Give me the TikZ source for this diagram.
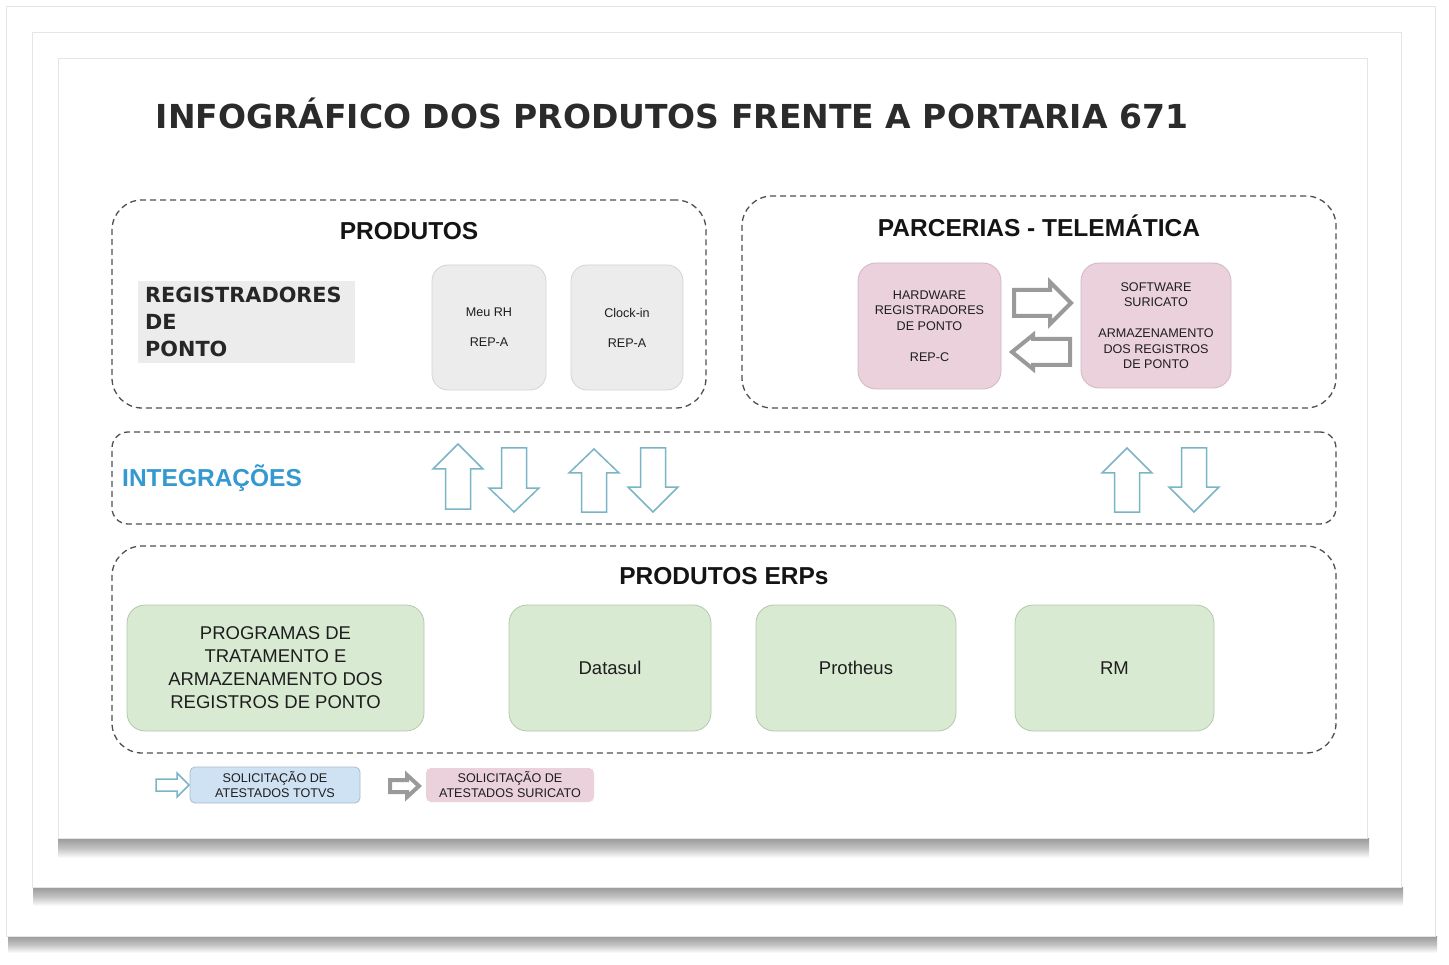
\documentclass[tikz,border=0pt]{standalone}
\usepackage{fontspec}
\setmainfont{Liberation Sans}
\newfontfamily\titlefont{DejaVu Sans}
\definecolor{dashc}{HTML}{505050}
\definecolor{grayfill}{HTML}{ECECEC}
\definecolor{graydraw}{HTML}{D4D4D4}
\definecolor{pinkfill}{HTML}{EAD1DC}
\definecolor{pinkdraw}{HTML}{D2B6C3}
\definecolor{greenfill}{HTML}{D9EAD3}
\definecolor{greendraw}{HTML}{B4C8AC}
\definecolor{bluefill}{HTML}{CFE2F3}
\definecolor{bluedraw}{HTML}{A9BCCC}
\definecolor{tealc}{HTML}{7AB5C5}
\definecolor{integc}{HTML}{3399D0}
\definecolor{titlec}{HTML}{2B2B2B}
\definecolor{txt}{HTML}{1E1E1E}
\definecolor{arrgray}{HTML}{9A9A9A}
\newcommand\UpArr[4]{%
\draw[tarrow] ({#1-12.5},#4) -- ({#1-12.5},#3) -- ({#1-25},#3) -- (#1,#2) -- ({#1+25},#3) -- ({#1+12.5},#3) -- ({#1+12.5},#4) -- cycle;}
\newcommand\DnArr[4]{%
\draw[tarrow] ({#1-12.5},#2) -- ({#1-12.5},#3) -- ({#1-25},#3) -- (#1,#4) -- ({#1+25},#3) -- ({#1+12.5},#3) -- ({#1+12.5},#2) -- cycle;}
\tikzset{
  frame/.style={draw=black!10, fill=white, line width=0.8pt},
  shadowband/.style={top color=black!40, bottom color=white, middle color=black!24, draw=none},
  dashbox/.style={draw=dashc, dash pattern=on 6pt off 4pt, line width=1.3pt, rounded corners=30pt, inner sep=0pt},
  headtxt/.style={font=\fontsize{24.5}{29}\selectfont\bfseries, text=black!92, inner sep=0pt},
  smallbox/.style={draw=graydraw, fill=grayfill, rounded corners=16pt, line width=0.8pt, minimum height=125pt, align=center, text=txt, font=\fontsize{12.6}{30}\selectfont, inner sep=0pt},
  pinkbox/.style={draw=pinkdraw, fill=pinkfill, rounded corners=18pt, line width=0.8pt, minimum height=125pt, align=center, text=txt, font=\fontsize{12.6}{15.5}\selectfont, inner sep=0pt},
  erpbox/.style={draw=greendraw, fill=greenfill, rounded corners=18pt, line width=0.8pt, minimum height=126pt, align=center, text=txt, font=\fontsize{18.5}{23}\selectfont, inner sep=0pt},
  legbox/.style={rounded corners=5pt, line width=0.8pt, align=center, text=txt, font=\fontsize{12.6}{15}\selectfont, inner sep=0pt},
  tarrow/.style={draw=tealc, fill=white, line width=1.5pt, line join=miter},
  garrow/.style={draw=arrgray, fill=white, line width=4pt, line join=miter},
}
\begin{document}
\begin{tikzpicture}[x=1pt,y=-1pt]
\useasboundingbox (0,0) rectangle (1449,965);
\fill[white] (0,0) rectangle (1449,965);
% frames and shadows
\shade[shadowband] (8,936) rectangle (1437,953);
\draw[frame] (6,6) rectangle (1435,936);
\shade[shadowband] (33,887) rectangle (1403,906);
\draw[frame] (32,32) rectangle (1401,887);
\shade[shadowband] (58,838) rectangle (1369,858);
\draw[frame] (58,58) rectangle (1367,838);
% title
\node[font=\titlefont\bfseries\fontsize{33}{40}\selectfont, text=titlec, inner sep=0pt] (title) at (672,113) {INFOGRÁFICO DOS PRODUTOS FRENTE A PORTARIA 671};
% dashed containers
\node[dashbox, minimum width=594pt, minimum height=208pt] (prod) at (409,304) {};
\node[dashbox, minimum width=594pt, minimum height=212pt] (parc) at (1039,302) {};
\node[dashbox, rounded corners=16pt, minimum width=1224pt, minimum height=92pt] (integ) at (724,478) {};
\node[dashbox, minimum width=1224pt, minimum height=207pt] (erp) at (724,649.5) {};
% headings
\node[headtxt] (hprod) at (409,231) {PRODUTOS};
\node[headtxt] (hparc) at (1039,226) {PARCERIAS - TELEMÁTICA};
\node[headtxt] (herp) at (724,576) {PRODUTOS ERPs};
\node[headtxt, text=integc, anchor=west] (hinteg) at (122,478) {INTEGRAÇÕES};
% registradores
\node[fill=grayfill, minimum width=217pt, minimum height=82pt, inner sep=0pt] (regbg) at (246.5,322) {};
\node[anchor=west, align=left, inner sep=0pt, text=black!85, font=\titlefont\bfseries\fontsize{20.8}{27}\selectfont] (reg) at (145,322) {REGISTRADORES\\DE\\PONTO};
% product boxes
\node[smallbox, minimum width=114pt] (meurh) at (489,327.5) {Meu RH\\REP-A};
\node[smallbox, minimum width=112pt] (clock) at (627,327.5) {Clock-in\\REP-A};
\node[pinkbox, minimum width=143pt, minimum height=126pt] (hw) at (929.5,326) {HARDWARE\\REGISTRADORES\\DE PONTO\\[15.5pt]REP-C};
\node[pinkbox, minimum width=150pt] (sw) at (1156,325.5) {SOFTWARE\\SURICATO\\[15.5pt]ARMAZENAMENTO\\DOS REGISTROS\\DE PONTO};
% gray arrows between hw and sw
\draw[garrow] (1014,290) -- (1050,290) -- (1050,282) -- (1071,303) -- (1050,324) -- (1050,316) -- (1014,316) -- cycle;
\draw[garrow] (1070,339) -- (1033,339) -- (1033,335) -- (1012,352) -- (1033,369) -- (1033,365) -- (1070,365) -- cycle;
% integration arrows
\UpArr{458}{444}{469}{509}
\DnArr{514}{448}{488}{512}
\UpArr{594}{449}{473}{512}
\DnArr{653}{448}{487}{512}
\UpArr{1127}{448}{473}{512}
\DnArr{1194}{448}{487}{512}
% ERP boxes
\node[erpbox, minimum width=297pt] (prog) at (275.5,668) {PROGRAMAS DE\\TRATAMENTO E\\ARMAZENAMENTO DOS\\REGISTROS DE PONTO};
\node[erpbox, minimum width=202pt] (datasul) at (610,668) {Datasul};
\node[erpbox, minimum width=200pt] (protheus) at (856,668) {Protheus};
\node[erpbox, minimum width=199pt] (rm) at (1114.5,668) {RM};
% legend
\draw[tarrow] (156,779) -- (177,779) -- (177,773) -- (189,785) -- (177,797) -- (177,791) -- (156,791) -- cycle;
\node[legbox, draw=bluedraw, fill=bluefill, minimum width=170pt, minimum height=36pt] (legtotvs) at (275,785) {SOLICITAÇÃO DE\\ATESTADOS TOTVS};
\draw[garrow] (390,780) -- (407,780) -- (407,775) -- (419,786) -- (407,797) -- (407,792) -- (390,792) -- cycle;
\node[legbox, fill=pinkfill, minimum width=168pt, minimum height=34pt] (legsur) at (510,785) {SOLICITAÇÃO DE\\ATESTADOS SURICATO};
\end{tikzpicture}
\end{document}
